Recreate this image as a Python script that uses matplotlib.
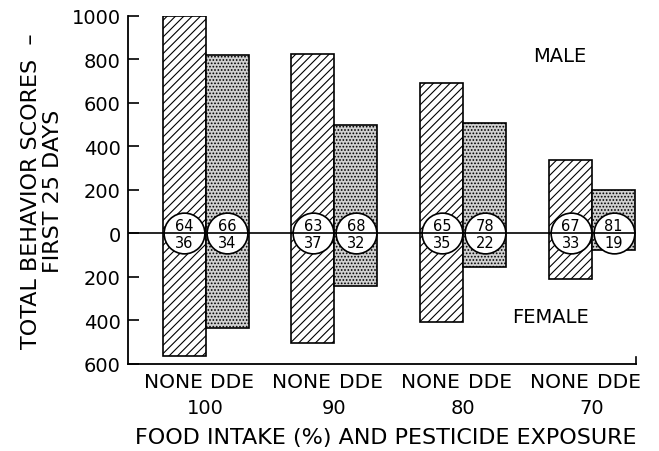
import matplotlib.pyplot as plt
import matplotlib.transforms as mtransforms

plt.rcParams['font.family'] = ['DejaVu Sans']
plt.rcParams['hatch.linewidth'] = 0.8

# data
intake = ['100', '90', '80', '70']
exposure = ['NONE', 'DDE']
male_none = [1000, 825, 690, 340]
male_dde = [820, 500, 510, 200]
female_none = [565, 505, 405, 210]
female_dde = [435, 240, 155, 75]
pct_top_none = [64, 63, 65, 67]
pct_bot_none = [36, 37, 35, 33]
pct_top_dde = [66, 68, 78, 81]
pct_bot_dde = [34, 32, 22, 19]

fig = plt.figure(figsize=(6.59, 4.52), dpi=100)
ax = fig.add_axes([0.194, 0.1925, 0.771, 0.77])

x_none = [3 * i for i in range(len(intake))]
x_dde = [3 * i + 1 for i in range(len(intake))]

# male bars (up) and female bars (down)
ax.bar(x_none, male_none, width=1, color='white', edgecolor='black', hatch='////', linewidth=1.2, zorder=2)
ax.bar(x_none, [-v for v in female_none], width=1, color='white', edgecolor='black', hatch='////', linewidth=1.2, zorder=2)
ax.bar(x_dde, male_dde, width=1, color='#d0d0d0', edgecolor='black', hatch='.....', linewidth=1.2, zorder=2)
ax.bar(x_dde, [-v for v in female_dde], width=1, color='#d0d0d0', edgecolor='black', hatch='.....', linewidth=1.2, zorder=2)

# circles with percentages
ax.scatter(x_none + x_dde, [0] * 8, s=860, facecolor='white', edgecolor='black', linewidth=1.2, zorder=3)
ax.axhline(0, color='black', linewidth=1.2, zorder=4)
for xs, tops, bots in [(x_none, pct_top_none, pct_bot_none), (x_dde, pct_top_dde, pct_bot_dde)]:
    for x, t, b in zip(xs, tops, bots):
        ax.annotate(str(t), (x, 0), xytext=(0, 6), textcoords='offset points',
                    ha='center', va='center', fontsize=10.5, zorder=5)
        ax.annotate(str(b), (x, 0), xytext=(0, -6.5), textcoords='offset points',
                    ha='center', va='center', fontsize=10.5, zorder=5)

ax.set_xlim(-1.31, 10.52)
ax.set_ylim(-600, 1000)
ax.set_yticks(range(-600, 1001, 200))
ax.set_yticklabels([str(abs(v)) for v in range(-600, 1001, 200)], fontsize=14)
ax.tick_params(axis='y', direction='in', length=8, width=1.2, pad=5)

ticks = []
labels = []
for a, b in zip(x_none, x_dde):
    ticks += [a - 0.26, b + 0.12]
    labels += exposure
ax.set_xticks(ticks)
ax.set_xticklabels(labels, fontsize=14.5)
ax.tick_params(axis='x', length=0, pad=6)

trans = mtransforms.blended_transform_factory(ax.transData, ax.transAxes)
for a, lab in zip(x_none, intake):
    ax.text(a + 0.5, -0.124, lab, transform=trans, ha='center', va='center', fontsize=14)

ax.text(0.508, -0.21, 'FOOD INTAKE (%) AND PESTICIDE EXPOSURE', transform=ax.transAxes,
        ha='center', va='center', fontsize=16)
ax.set_ylabel('TOTAL BEHAVIOR SCORES  \u2013\nFIRST 25 DAYS', fontsize=16, labelpad=6,
              multialignment='center', linespacing=1.15)

ax.text(8.75, 817, 'MALE', ha='center', va='center', fontsize=14)
ax.text(8.52, -382, 'FEMALE', ha='center', va='center', fontsize=14)

for side in ['top', 'right']:
    ax.spines[side].set_visible(False)
ax.spines['left'].set_linewidth(1.3)
ax.spines['bottom'].set_linewidth(1.3)
ax.plot([1, 1], [0, 0.02], transform=ax.transAxes, color='black', linewidth=1.2, clip_on=False)

fig.savefig('out.png', dpi=100)
